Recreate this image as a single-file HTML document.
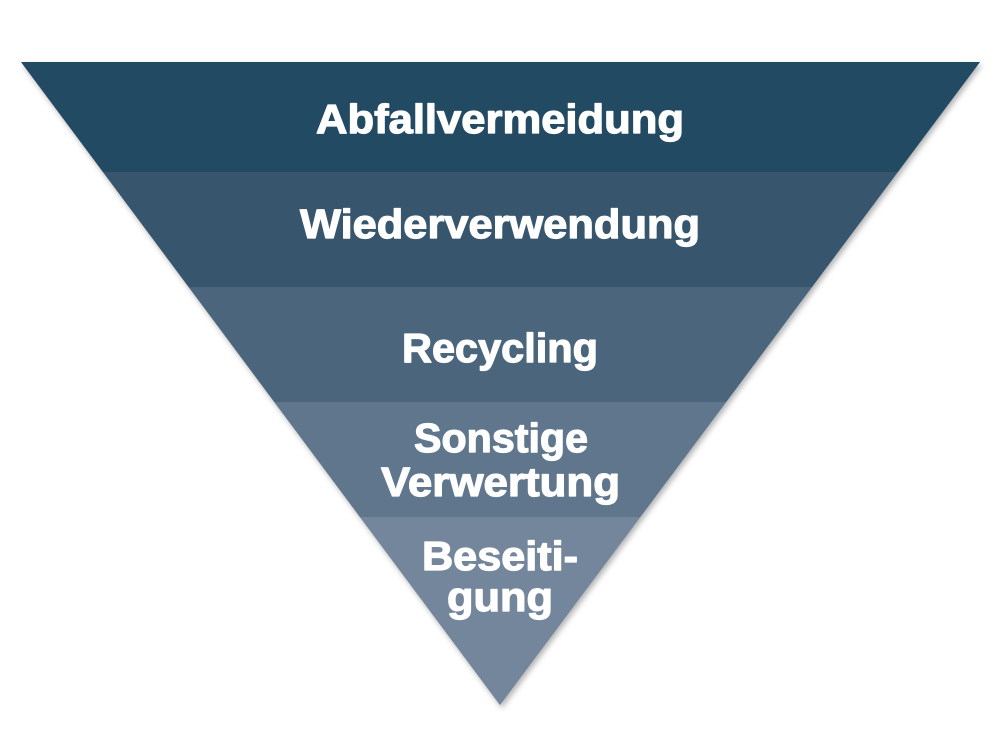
<!DOCTYPE html>
<html><head><meta charset="utf-8"><style>
html,body{margin:0;padding:0;background:#fff;width:1000px;height:745px;overflow:hidden}
text{font-family:"Liberation Sans",sans-serif;font-weight:bold;fill:#fff;font-size:41px;stroke:#fff;stroke-width:1.2px;stroke-linejoin:round}
</style></head><body>
<svg width="1000" height="745" viewBox="0 0 1000 745">
<defs>
<clipPath id="t"><polygon points="21,62 980,62 500,705"/></clipPath>
<filter id="s" x="-10%" y="-10%" width="120%" height="120%"><feDropShadow dx="2" dy="3" stdDeviation="3" flood-color="#000" flood-opacity="0.3"/></filter>
</defs>
<polygon points="21,62 980,62 500,705" fill="#74869c" filter="url(#s)"/>
<g clip-path="url(#t)">
<rect x="0" y="62" width="1000" height="110" fill="#234a63"/>
<rect x="0" y="172" width="1000" height="115" fill="#37566e"/>
<rect x="0" y="287" width="1000" height="115" fill="#4b657d"/>
<rect x="0" y="402" width="1000" height="115" fill="#5f768d"/>
<rect x="0" y="517" width="1000" height="200" fill="#74869c"/>
</g>
<text x="316" y="133" textLength="368" lengthAdjust="spacingAndGlyphs">Abfallvermeidung</text>
<text x="300" y="238" textLength="400" lengthAdjust="spacingAndGlyphs">Wiederverwendung</text>
<text x="402" y="362" textLength="196" lengthAdjust="spacingAndGlyphs">Recycling</text>
<text x="414" y="452" textLength="174" lengthAdjust="spacingAndGlyphs">Sonstige</text>
<text x="381" y="496" textLength="239" lengthAdjust="spacingAndGlyphs">Verwertung</text>
<text x="422" y="570" textLength="156" lengthAdjust="spacingAndGlyphs">Beseiti-</text>
<text x="447" y="611" textLength="106" lengthAdjust="spacingAndGlyphs">gung</text>
</svg>
</body></html>
